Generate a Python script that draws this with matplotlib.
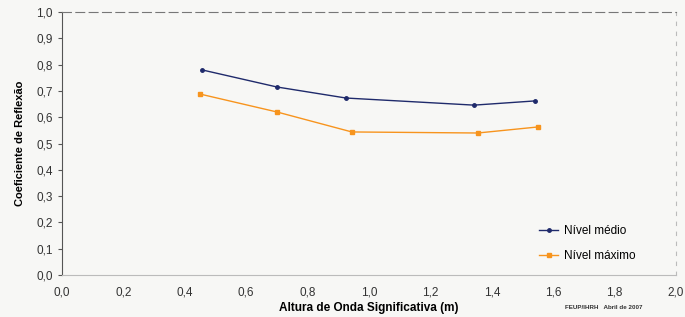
import matplotlib

matplotlib.use("Agg")
import matplotlib.pyplot as plt

plt.rcParams["font.family"] = ["Liberation Sans", "DejaVu Sans"]

# wave height (m) and reflection coefficient
hs_medio = [0.456, 0.70, 0.925, 1.342, 1.54]
kr_medio = [0.78, 0.715, 0.673, 0.646, 0.662]
hs_max = [0.45, 0.70, 0.944, 1.354, 1.55]
kr_max = [0.688, 0.62, 0.544, 0.540, 0.563]

x_ticks = [0.0, 0.2, 0.4, 0.6, 0.8, 1.0, 1.2, 1.4, 1.6, 1.8, 2.0]
y_ticks = [0.0, 0.1, 0.2, 0.3, 0.4, 0.5, 0.6, 0.7, 0.8, 0.9, 1.0]


def comma(v):
    return f"{v:.1f}".replace(".", ",")


fig = plt.figure(figsize=(6.85, 3.17), dpi=100, facecolor="#f7f7f5")
ax = fig.add_axes([0.0905, 0.1325, 0.8965, 0.8295])
ax.set_facecolor("#f7f7f5")

ax.plot(hs_medio, kr_medio, color="#1f2a6b", lw=1.0, marker="o", ms=2.5, label="Nível médio")
ax.plot(hs_max, kr_max, color="#f7941d", lw=1.0, marker="s", ms=3.5, label="Nível máximo")

ax.set_xlim(0, 2.0)
ax.set_ylim(0, 1.0)
ax.set_xticks(x_ticks)
ax.set_yticks(y_ticks)
ax.set_xticklabels([comma(v) for v in x_ticks], fontsize=8.5, color="#333333")
ax.set_yticklabels([comma(v) for v in y_ticks], fontsize=8.5, color="#333333")
ax.tick_params(axis="x", length=0, pad=8)
ax.tick_params(axis="y", length=3, direction="out", color="#555555")

for side in ("top", "right", "bottom"):
    ax.spines[side].set_color("#bbbbbb")
    ax.spines[side].set_linewidth(0.8)
ax.spines["top"].set_color("#777777")
ax.spines["top"].set_linestyle((0, (8, 4)))
ax.spines["right"].set_linestyle((0, (3, 6)))
ax.spines["left"].set_color("#555555")

ax.set_xlabel("Altura de Onda Significativa (m)", fontsize=8.5, fontweight="bold", labelpad=3)
ax.set_ylabel("Coeficiente de Reflexão", fontsize=8, fontweight="bold", labelpad=8)

ax.legend(loc="lower left", frameon=False, fontsize=8.5, handlelength=1.6,
          bbox_to_anchor=(0.76, 0.01), labelspacing=1.1, handletextpad=0.5)

fig.text(0.825, 0.025, "FEUP/IHRH   Abril de 2007", fontsize=4.5, fontweight="bold",
         color="#333333")

fig.savefig("out.png", dpi=100, facecolor=fig.get_facecolor())
